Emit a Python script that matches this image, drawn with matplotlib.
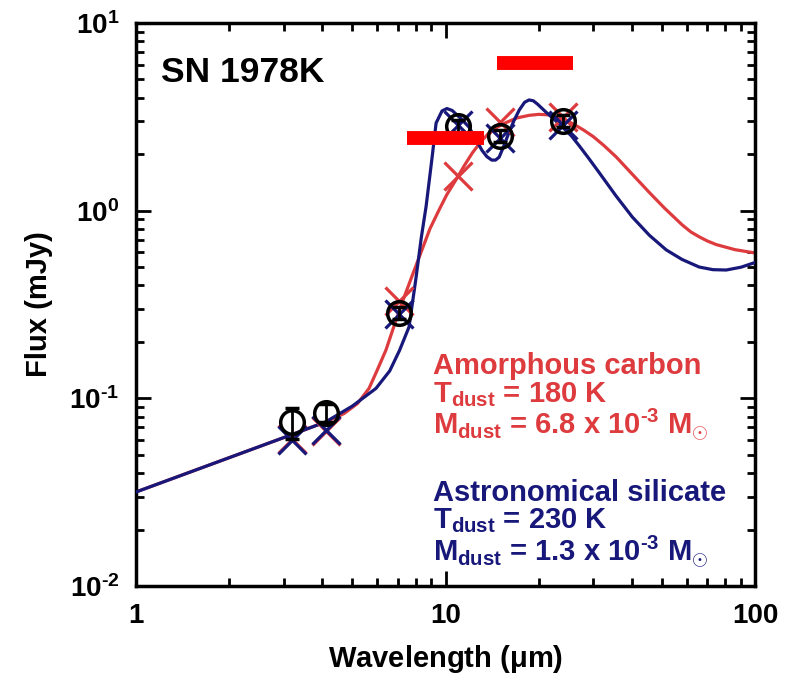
import matplotlib
matplotlib.use('Agg')
import matplotlib.pyplot as plt
from matplotlib.ticker import FixedLocator, FixedFormatter, LogLocator, NullFormatter

plt.rcParams['font.family'] = ['Liberation Sans', 'DejaVu Sans']
plt.rcParams['font.weight'] = 'bold'
plt.rcParams['mathtext.fontset'] = 'custom'
plt.rcParams['mathtext.rm'] = 'Liberation Sans:bold'
plt.rcParams['mathtext.bf'] = 'Liberation Sans:bold'
plt.rcParams['mathtext.it'] = 'Liberation Sans:bold'

RED = '#dd3b3e'
BLUE = '#17187a'
HY = '\u2010'  # short hyphen used in the exponents

# model curves
carbon_wl = [1.0, 2.0, 3.0, 4.1, 4.7, 5.2, 5.66, 6.0, 6.42, 6.8, 7.23, 7.8, 8.39, 8.9,
             9.53, 10.1, 10.8, 11.5, 12.2, 13.0, 13.8, 14.7, 15.7, 17.0, 18.6, 20.0,
             21.5, 23.0, 24.5, 26.0, 28.0, 30.0, 32.5, 35.6, 40.0, 45.5, 51.0, 58.1,
             62.0, 66.0, 70.0, 74.8, 86.0, 100.0]
carbon_flux = [0.0317, 0.0483, 0.0618, 0.0749, 0.083, 0.094, 0.113, 0.140, 0.181, 0.24,
               0.322, 0.45, 0.618, 0.80, 1.01, 1.22, 1.46, 1.74, 2.03, 2.33, 2.59, 2.79,
               2.95, 3.12, 3.22, 3.26, 3.24, 3.16, 3.03, 2.88, 2.68, 2.48, 2.22, 1.93,
               1.57, 1.25, 1.03, 0.84, 0.77, 0.725, 0.69, 0.66, 0.62, 0.595]

silicate_wl = [1.0, 2.0, 3.0, 4.1, 5.0, 5.96, 6.6, 7.1, 7.62, 8.03, 8.35, 8.65, 9.05,
               9.32, 9.74, 10.1, 10.5, 11.2, 11.9, 12.5, 13.1, 13.6, 14.1, 14.5, 14.9,
               15.4, 16.0, 16.6, 17.3, 18.0, 18.6, 19.2, 19.8, 21.1, 22.5, 23.8, 25.5,
               27.0, 29.0, 31.3, 35.5, 40.1, 45.5, 51.6, 58.0, 65.9, 73.0, 80.6, 90.0,
               100.0]
silicate_flux = [0.0317, 0.0483, 0.0618, 0.0749, 0.091, 0.113, 0.14, 0.18, 0.24, 0.44,
                 0.72, 1.05, 1.93, 2.93, 3.40, 3.50, 3.42, 3.1, 2.79, 2.42, 2.10, 1.94,
                 1.86, 1.86, 1.93, 2.2, 2.59, 3.0, 3.44, 3.78, 3.89, 3.85, 3.7, 3.35,
                 3.05, 2.8, 2.5, 2.22, 1.9, 1.6, 1.2, 0.925, 0.74, 0.618, 0.55, 0.501,
                 0.485, 0.483, 0.50, 0.53]

# observed photometry
obs_wl = [3.2, 4.1, 7.1, 11.0, 15.0, 24.0]
obs_flux = [0.075, 0.084, 0.285, 2.83, 2.5, 3.0]
obs_err = [0.014, 0.009, 0.02, 0.2, 0.18, 0.22]

# band-integrated model fluxes
carbon_model = [0.061, 0.067, 0.33, 1.53, 2.95, 3.15]
silicate_model = [0.060, 0.068, 0.28, 2.85, 2.45, 2.85]

# red bars
bar_y = [2.44, 6.1]
bar_x0 = [7.5, 14.7]
bar_x1 = [13.3, 25.8]

fig = plt.figure(figsize=(7.9, 6.76), dpi=100)
ax = fig.add_axes([0.172, 0.133, 0.784, 0.833])

ax.plot(carbon_wl, carbon_flux, color=RED, lw=2.3, zorder=2)
ax.plot(silicate_wl, silicate_flux, color=BLUE, lw=2.3, zorder=3)

ax.plot(obs_wl, carbon_model, ls='none', marker='x', ms=20, mew=2.3, color=RED, zorder=4)
ax.plot(obs_wl, silicate_model, ls='none', marker='x', ms=20, mew=2.3, color=BLUE, zorder=5)
ax.errorbar(obs_wl, obs_flux, yerr=obs_err, fmt='o', ms=17, mfc='none', mec='black',
            mew=2.5, ecolor='black', elinewidth=2.0, capsize=5, capthick=2.0, zorder=6)

ax.hlines(bar_y, bar_x0, bar_x1, color='#ff0000', lw=10, zorder=7)

ax.set_xscale('log')
ax.set_yscale('log')
ax.set_xlim(1, 100)
ax.set_ylim(0.01, 10)

ax.xaxis.set_major_locator(FixedLocator([1, 10, 100]))
ax.xaxis.set_major_formatter(FixedFormatter(['1', '10', '100']))
ax.yaxis.set_major_locator(FixedLocator([0.01, 0.1, 1, 10]))
ax.yaxis.set_major_formatter(FixedFormatter(['$10^{' + HY + '2}$', '$10^{' + HY + '1}$',
                                             '$10^{0}$', '$10^{1}$']))
ax.xaxis.set_minor_locator(LogLocator(base=10, subs=range(2, 10)))
ax.yaxis.set_minor_locator(LogLocator(base=10, subs=range(2, 10)))
ax.xaxis.set_minor_formatter(NullFormatter())
ax.yaxis.set_minor_formatter(NullFormatter())

ax.tick_params(which='both', direction='in', top=True, right=True, width=2, labelsize=20)
ax.tick_params(which='major', length=11, pad=12)
ax.tick_params(which='minor', length=6)
for s in ax.spines.values():
    s.set_linewidth(2.5)

ax.set_xlabel(r'Wavelength ($\mu$m)', fontsize=21, fontweight='bold', labelpad=10)
ax.set_ylabel('Flux (mJy)', fontsize=21, fontweight='bold', labelpad=12)

ax.text(0.04, 0.895, 'SN 1978K', transform=ax.transAxes, fontsize=25.5, fontweight='bold',
        va='baseline', ha='left')

lx = 0.479
ax.text(lx, 0.377, 'Amorphous carbon', transform=ax.transAxes, color=RED, fontsize=21,
        fontweight='bold', va='baseline')
ax.text(lx, 0.327, r'T$_{\mathbf{dust}}$ = 180 K', transform=ax.transAxes, color=RED,
        fontsize=21, fontweight='bold', va='baseline')
ax.text(lx, 0.270, 'M$_{\\mathbf{dust}}$ = 6.8 x 10$^{\\mathbf{' + HY + '3}}$ M$_{\\odot}$',
        transform=ax.transAxes, color=RED, fontsize=21, fontweight='bold', va='baseline')

ax.text(lx, 0.151, 'Astronomical silicate', transform=ax.transAxes, color=BLUE, fontsize=21,
        fontweight='bold', va='baseline')
ax.text(lx, 0.103, r'T$_{\mathbf{dust}}$ = 230 K', transform=ax.transAxes, color=BLUE,
        fontsize=21, fontweight='bold', va='baseline')
ax.text(lx, 0.044, 'M$_{\\mathbf{dust}}$ = 1.3 x 10$^{\\mathbf{' + HY + '3}}$ M$_{\\odot}$',
        transform=ax.transAxes, color=BLUE, fontsize=21, fontweight='bold', va='baseline')

fig.savefig('out.png', dpi=100)
